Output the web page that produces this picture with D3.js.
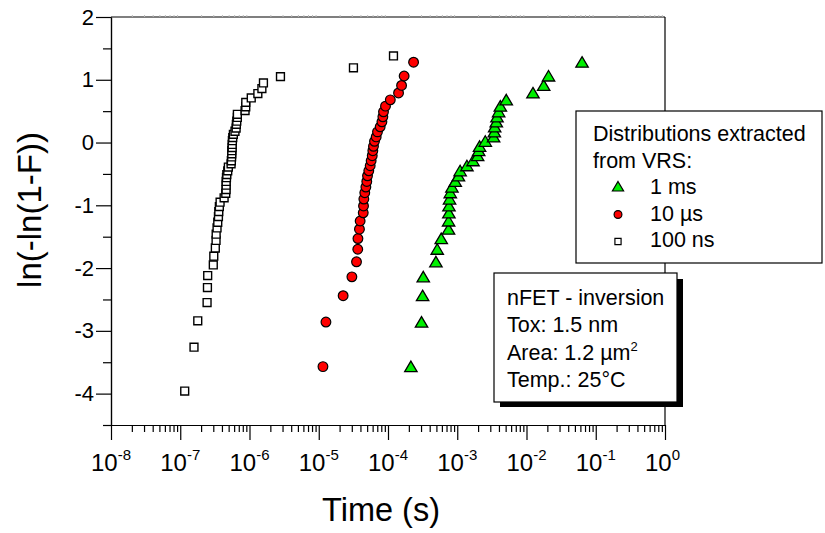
<!DOCTYPE html>
<html lang="en">
  <head>
    <meta charset="utf-8" />
    <title>weibull plot</title>
    <script type="text/javascript" src="https://d3js.org/d3.v7.min.js"></script>
    <style>
      body { margin: 0; background: #fff; }
      svg { font-family: "Liberation Sans", Arial, sans-serif; }
    </style>
  </head>
  <body>
    <div id="graph"></div>

    <script type="text/javascript">
      /********************************
       * data (time in s, ln(-ln(1-F)))
       ********************************/

      // 100 ns distribution (squares)
      const t100ns = [
        1.16e-7, 1.58e-7, 1.79e-7, 2.44e-7, 2.47e-7, 2.49e-7, 3.0e-7, 3.05e-7,
        3.21e-7, 3.29e-7, 3.3e-7, 3.4e-7, 3.48e-7, 3.56e-7, 3.6e-7, 3.67e-7,
        3.76e-7, 4.3e-7, 4.54e-7, 4.59e-7, 4.6e-7, 4.6e-7, 4.65e-7, 4.7e-7,
        4.85e-7, 4.95e-7, 5.42e-7, 5.47e-7, 5.52e-7, 5.55e-7, 5.55e-7, 5.62e-7,
        5.62e-7, 5.66e-7, 5.73e-7, 5.85e-7, 6.17e-7, 6.41e-7, 6.46e-7, 6.55e-7,
        6.68e-7, 6.68e-7, 8.63e-7, 8.83e-7, 8.83e-7, 1.06e-6, 1.32e-6, 1.51e-6,
        1.59e-6, 2.8e-6, 3.17e-5, 1.2e-4,
      ];
      const w100ns = [
        -3.96, -3.26, -2.84, -2.55, -2.31, -2.12, -1.95, -1.81, -1.68, -1.56,
        -1.46, -1.36, -1.27, -1.18, -1.1, -1.02, -0.95, -0.88, -0.81, -0.75,
        -0.68, -0.62, -0.56, -0.51, -0.45, -0.39, -0.34, -0.29, -0.23, -0.18,
        -0.13, -0.08, -0.03, 0.03, 0.08, 0.13, 0.18, 0.23, 0.29, 0.34, 0.4,
        0.45, 0.51, 0.57, 0.64, 0.71, 0.78, 0.86, 0.95, 1.05, 1.19, 1.38,
      ];

      // 10 us distribution (circles)
      const t10us = [
        1.15e-5, 1.27e-5, 2.25e-5, 3.01e-5, 3.51e-5, 3.66e-5, 3.68e-5, 3.87e-5,
        3.96e-5, 4.39e-5, 4.43e-5, 4.48e-5, 4.62e-5, 4.79e-5, 4.94e-5, 5.06e-5,
        5.28e-5, 5.53e-5, 5.71e-5, 5.92e-5, 6.04e-5, 6.17e-5, 6.38e-5, 6.75e-5,
        7.05e-5, 7.71e-5, 8.17e-5, 8.43e-5, 8.61e-5, 9.2e-5, 1.08e-4, 1.42e-4,
        1.57e-4, 1.71e-4, 2.34e-4,
      ];
      // 1 ms distribution (triangles)
      const t1ms = [
        2.14e-4, 3.05e-4, 3.16e-4, 3.23e-4, 4.92e-4, 5.14e-4, 5.87e-4, 7.48e-4,
        7.5e-4, 7.57e-4, 7.59e-4, 7.74e-4, 7.93e-4, 8.38e-4, 9.35e-4, 1.04e-3,
        1.1e-3, 1.38e-3, 1.69e-3, 1.97e-3, 2.04e-3, 2.1e-3, 2.54e-3, 3.35e-3,
        3.43e-3, 3.47e-3, 3.66e-3, 3.75e-3, 3.96e-3, 4.19e-3, 5.1e-3, 1.24e-2,
        1.77e-2, 2.08e-2, 6.34e-2,
      ];
      // both 35-sample sets share the same ranks
      const w35 = [
        -3.57, -2.86, -2.44, -2.14, -1.9, -1.7, -1.53, -1.38, -1.25, -1.12,
        -1.01, -0.9, -0.8, -0.71, -0.62, -0.53, -0.45, -0.37, -0.29, -0.21,
        -0.13, -0.06, 0.02, 0.09, 0.17, 0.25, 0.33, 0.41, 0.49, 0.58, 0.68,
        0.79, 0.91, 1.06, 1.28,
      ];

      const xExponents = [-8, -7, -6, -5, -4, -3, -2, -1, 0];
      const yTickValues = [-4, -3, -2, -1, 0, 1, 2];

      const legendLabels = ["1 ms", "10 \u00b5s", "100 ns"];
      const infoLines = ["nFET - inversion", "Tox: 1.5 nm", "Area: 1.2 \u00b5m", "Temp.: 25\u00b0C"];

      /***************************
       * svg + scales
       **************************/
      const width = 825;
      const height = 533;
      const margin = { top: 17, right: 160, bottom: 108, left: 111 };

      const svg = d3
        .select("div#graph")
        .append("svg")
        .attr("width", width)
        .attr("height", height);

      svg.append("rect").attr("width", width).attr("height", height).attr("fill", "#fff");

      const xScale = d3
        .scaleLog()
        .domain([1e-8, 1])
        .range([margin.left, width - margin.right]);

      const yScale = d3
        .scaleLinear()
        .domain([-4.5, 2])
        .range([height - margin.bottom, margin.top]);

      const x0 = margin.left;
      const x1 = width - margin.right;
      const y0 = height - margin.bottom;
      const y1 = margin.top;

      /*********************************
       * axes
       *******************************/
      const minorX = [];
      xExponents.slice(0, -1).forEach((e) => {
        for (let k = 2; k <= 9; k++) minorX.push(k * Math.pow(10, e));
      });
      const majorX = xExponents.map((e) => Math.pow(10, e));

      // frame: top + right
      svg.append("line").attr("x1", x0).attr("x2", x1).attr("y1", y1).attr("y2", y1)
        .attr("stroke", "#000").attr("stroke-width", 1.2);
      svg.append("line").attr("x1", x1).attr("x2", x1).attr("y1", y1).attr("y2", y0)
        .attr("stroke", "#000").attr("stroke-width", 1.2);

      // faint top ticks
      svg.append("g")
        .attr("transform", `translate(0,${y1})`)
        .call(d3.axisTop(xScale).tickValues(minorX).tickSize(2).tickFormat(""))
        .call((g) => g.select(".domain").remove())
        .call((g) => g.selectAll("line").attr("stroke", "#bbb"));

      svg.append("g")
        .attr("transform", `translate(0,${y0})`)
        .call(d3.axisBottom(xScale).tickValues(minorX).tickSize(7).tickFormat("").tickSizeOuter(0))
        .call((g) => g.selectAll("line, path").attr("stroke", "#000").attr("stroke-width", 1.2));

      svg.append("g")
        .attr("transform", `translate(0,${y0})`)
        .call(d3.axisBottom(xScale).tickValues(majorX).tickSize(15).tickFormat("").tickSizeOuter(0))
        .call((g) => g.selectAll("line, path").attr("stroke", "#000").attr("stroke-width", 1.2));

      // x tick labels 10^n
      const xLab = svg.append("g").selectAll("text")
        .data(xExponents)
        .join("text")
        .attr("x", (e) => xScale(Math.pow(10, e)) - 20)
        .attr("y", y0 + 46)
        .attr("font-size", 24);
      xLab.append("tspan").text("10");
      xLab.append("tspan").attr("dy", -11).attr("font-size", 15).text((e) => e);

      const minorY = d3.range(-4.5, 2, 1);
      svg.append("g")
        .attr("transform", `translate(${x0},0)`)
        .call(d3.axisLeft(yScale).tickValues(minorY).tickSize(8).tickFormat("").tickSizeOuter(0))
        .call((g) => g.selectAll("line, path").attr("stroke", "#000").attr("stroke-width", 1.2));

      svg.append("g")
        .attr("transform", `translate(${x0},0)`)
        .call(d3.axisLeft(yScale).tickValues(yTickValues).tickSize(15).tickFormat(d3.format("d")).tickSizeOuter(0))
        .call((g) => g.selectAll("line, path").attr("stroke", "#000").attr("stroke-width", 1.2))
        .call((g) => g.selectAll("text")
          .attr("x", -17)
          .attr("font-size", 22)
          .attr("font-family", "Liberation Sans, Arial, sans-serif")
          .attr("fill", "#000")
          .text((d) => (d < 0 ? "-" + Math.abs(d) : d)));

      // axis titles
      svg.append("text")
        .attr("x", 381)
        .attr("y", 521)
        .attr("text-anchor", "middle")
        .attr("font-size", 32.5)
        .text("Time (s)");

      svg.append("text")
        .attr("transform", "translate(41,210) rotate(-90)")
        .attr("text-anchor", "middle")
        .attr("font-size", 33)
        .text("ln(-ln(1-F))");

      /*******************************
       * markers
       *******************************/
      const square = d3.symbol().type(d3.symbolSquare).size(62);
      const circle = d3.symbol().type(d3.symbolCircle).size(74);
      const triangle = "M0,-5.5L6.2,5L-6.2,5Z";

      const plot = svg.append("g");

      plot.selectAll("path.sq")
        .data(d3.zip(t100ns, w100ns))
        .join("path")
        .attr("class", "sq")
        .attr("transform", (d) => `translate(${xScale(d[0])},${yScale(d[1])})`)
        .attr("d", square)
        .attr("fill", "#fff")
        .attr("stroke", "#000")
        .attr("stroke-width", 1.4);

      plot.selectAll("path.ci")
        .data(d3.zip(t10us, w35))
        .join("path")
        .attr("class", "ci")
        .attr("transform", (d) => `translate(${xScale(d[0])},${yScale(d[1])})`)
        .attr("d", circle)
        .attr("fill", "#ff0000")
        .attr("stroke", "#000")
        .attr("stroke-width", 1.2);

      plot.selectAll("path.tr")
        .data(d3.zip(t1ms, w35))
        .join("path")
        .attr("class", "tr")
        .attr("transform", (d) => `translate(${xScale(d[0])},${yScale(d[1])})`)
        .attr("d", triangle)
        .attr("fill", "#00f000")
        .attr("stroke", "#000")
        .attr("stroke-width", 1.3);

      /*******************************
       * legend box
       *******************************/
      const leg = svg.append("g").attr("font-size", 21.5);
      leg.append("rect")
        .attr("x", 576).attr("y", 111).attr("width", 246).attr("height", 152)
        .attr("fill", "#fff").attr("stroke", "#000").attr("stroke-width", 1.2);
      leg.append("text").attr("x", 593).attr("y", 141).text("Distributions extracted");
      leg.append("text").attr("x", 593).attr("y", 167.5).text("from VRS:");

      const legY = (i) => 194 + i * 26.5;
      leg.selectAll("text.lab")
        .data(legendLabels)
        .join("text")
        .attr("class", "lab")
        .attr("x", 650)
        .attr("y", (d, i) => legY(i))
        .text((d) => d);

      leg.append("path")
        .attr("transform", `translate(618,${legY(0) - 7.5})`)
        .attr("d", "M0,-5L5.6,4.5L-5.6,4.5Z")
        .attr("fill", "#00f000").attr("stroke", "#000").attr("stroke-width", 1.2);
      leg.append("path")
        .attr("transform", `translate(618,${legY(1) - 6})`)
        .attr("d", d3.symbol().type(d3.symbolCircle).size(48))
        .attr("fill", "#ff0000").attr("stroke", "#000").attr("stroke-width", 1.2);
      leg.append("path")
        .attr("transform", `translate(618,${legY(2) - 5.5})`)
        .attr("d", d3.symbol().type(d3.symbolSquare).size(38))
        .attr("fill", "#fff").attr("stroke", "#000").attr("stroke-width", 1.2);

      /*******************************
       * info box with shadow
       *******************************/
      const info = svg.append("g").attr("font-size", 21.5);
      info.append("rect")
        .attr("x", 500).attr("y", 279).attr("width", 183).attr("height", 128)
        .attr("fill", "#000");
      info.append("rect")
        .attr("x", 494).attr("y", 273).attr("width", 183).attr("height", 129)
        .attr("fill", "#fff").attr("stroke", "#000").attr("stroke-width", 1.2);

      const infoText = info.selectAll("text")
        .data(infoLines)
        .join("text")
        .attr("x", 507)
        .attr("y", (d, i) => 305 + i * 27.3)
        .text((d) => d);
      infoText.filter((d, i) => i === 2)
        .append("tspan").attr("dy", -9).attr("font-size", 13).text("2");
    </script>
  </body>
</html>
